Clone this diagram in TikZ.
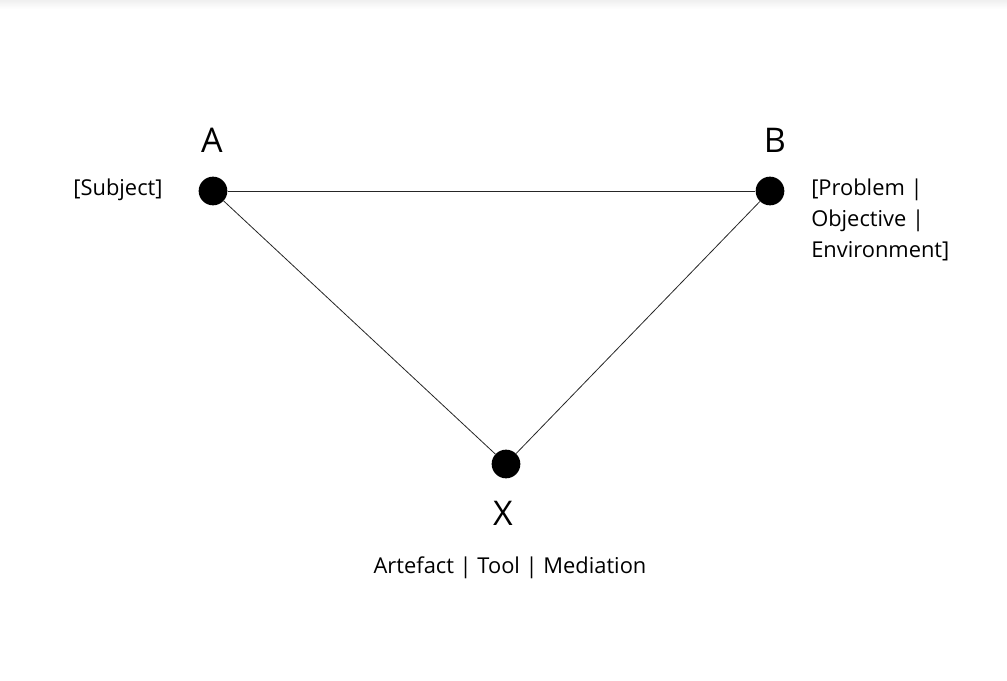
\documentclass[tikz,border=0pt]{standalone}
\usepackage{fontspec}
\setmainfont{Open Sans}

\begin{document}
\begin{tikzpicture}[
    x=0.75pt, y=-0.75pt,
    text=black,
    dot/.style={circle, fill=black, minimum size=21.5pt, inner sep=0pt},
    letter/.style={font=\fontsize{25.5}{30}\selectfont},
    caption/.style={font=\fontsize{16.4}{23.25}\selectfont},
    edge/.style={draw=black!85, line width=0.6pt},
]
\useasboundingbox (0,0) rectangle (1007,681);

% faint shadow at the top edge
\shade[top color=black!6, bottom color=white] (0,0) rectangle (1007,9);

% ==================== DOTS ====================
\node[dot] (A_dot) at (213,191) {};
\node[dot] (B_dot) at (770,191) {};
\node[dot] (X_dot) at (506,464) {};

% Triangle edges
\draw[edge] (A_dot) -- (B_dot);
\draw[edge] (A_dot) -- (X_dot);
\draw[edge] (B_dot) -- (X_dot);

% ==================== LABELS ====================
\node[letter] (A_label) at (212,140) {A};
\node[letter] (B_label) at (775,140) {B};
\node[letter] (X_label) at (503,513) {X};

\node[caption] (A_text) at (118,190) {[Subject]};
\node[caption, anchor=west, align=left, inner sep=0pt] (B_text) at (811,220)
    {[Problem |\\Objective |\\Environment]};
\node[caption] (X_text) at (510,568) {Artefact | Tool | Mediation};

\end{tikzpicture}
\end{document}
